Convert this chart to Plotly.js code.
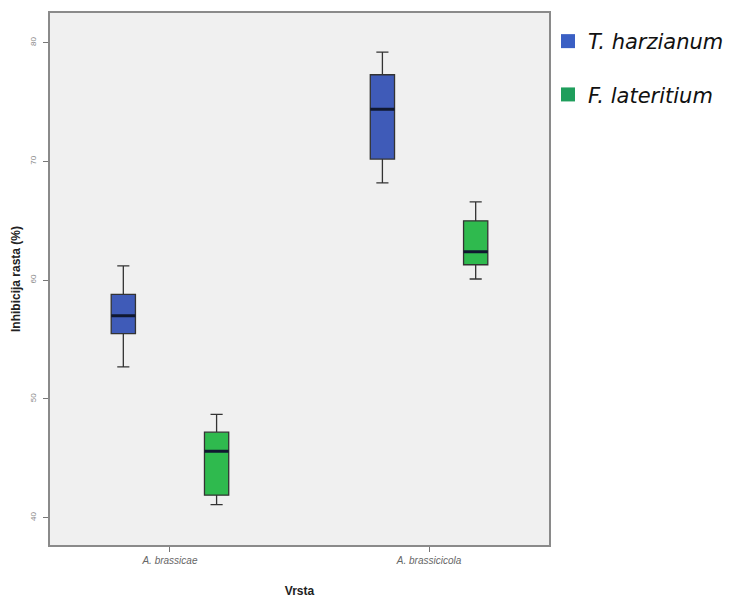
<!DOCTYPE html>
<html><head><meta charset="utf-8">
<script src="https://cdn.plot.ly/plotly-3.0.1.min.js"></script>
<style>body{margin:0;background:#fff}#chart{width:741px;height:612px}</style>
</head><body><div id="chart"></div>
<script>
var categories = ['A. brassicae', 'A. brassicicola'];
var seriesNames = ['T. harzianum', 'F. lateritium'];
var lowerWhisker = [[52.7, 68.2], [41.1, 60.1]];
var q1Values     = [[55.5, 70.2], [41.9, 61.3]];
var medianValues = [[57.0, 74.4], [45.6, 62.4]];
var q3Values     = [[58.8, 77.3], [47.2, 65.0]];
var upperWhisker = [[61.2, 79.2], [48.7, 66.6]];
var yTicks = [40, 50, 60, 70, 80];

var boxColors = ['#3f5bb8', '#2fba4e'];
var legendColors = ['#3a5fc4', '#1f9e5c'];

var traces = [];
seriesNames.forEach(function(name, i){
  traces.push({
    type: 'box', name: name, x: categories,
    q1: q1Values[i], median: medianValues[i], q3: q3Values[i],
    lowerfence: lowerWhisker[i], upperfence: upperWhisker[i],
    fillcolor: boxColors[i], line: {color: '#333', width: 1.3},
    whiskerwidth: 0.5, offsetgroup: 'g' + i, showlegend: false, hoverinfo: 'skip'
  });
});
seriesNames.forEach(function(name, i){
  traces.push({
    type: 'box', name: name + ' median', x: categories,
    q1: medianValues[i], median: medianValues[i], q3: medianValues[i],
    lowerfence: medianValues[i], upperfence: medianValues[i],
    fillcolor: 'rgba(0,0,0,0)', line: {color: '#101830', width: 3},
    whiskerwidth: 0, offsetgroup: 'g' + i, showlegend: false, hoverinfo: 'skip'
  });
});
seriesNames.forEach(function(name, i){
  traces.push({
    type: 'scatter', mode: 'markers', name: name, x: [null], y: [null],
    legendgroup: 'l' + i, showlegend: true,
    marker: {symbol: 'square', size: 14, color: legendColors[i], line: {width: 0}}
  });
});

var layout = {
  width: 741, height: 612,
  margin: {l: 50, r: 192, t: 13, b: 67},
  paper_bgcolor: '#ffffff', plot_bgcolor: '#f0f0f0',
  boxmode: 'group', boxgap: 0.28, boxgroupgap: 0.74,
  showlegend: true,
  legend: {x: 0.998, xanchor: 'left', y: 0.985, yanchor: 'top',
    font: {family: 'DejaVu Sans, sans-serif', size: 21, color: '#111', style: 'italic'},
    tracegroupgap: 23, traceorder: 'grouped', itemwidth: 30, bgcolor: 'rgba(0,0,0,0)'},
  xaxis: {
    type: 'category', range: [-0.463, 1.463],
    showgrid: false, zeroline: false, showline: true, mirror: true,
    linecolor: '#8a8a8a', linewidth: 2,
    ticks: 'outside', ticklen: 5, tickcolor: '#777', tickwidth: 1,
    tickfont: {family: 'Liberation Sans, Arial, sans-serif', size: 10, color: '#666', style: 'italic'},
    title: {text: 'Vrsta', font: {family: 'Liberation Sans, Arial, sans-serif', size: 12, color: '#222', weight: 'bold'}, standoff: 22}
  },
  yaxis: {
    range: [37.7, 82.5], tickvals: yTicks, ticktext: yTicks.map(String),
    showgrid: false, zeroline: false, showline: true, mirror: true,
    linecolor: '#8a8a8a', linewidth: 2,
    ticks: 'outside', ticklen: 5, tickcolor: '#777', tickwidth: 1, tickangle: -90,
    ticklabelstandoff: 4,
    tickfont: {family: 'Liberation Sans, Arial, sans-serif', size: 8, color: '#888'},
    title: {text: 'Inhibicija rasta (%)', font: {family: 'Liberation Sans, Arial, sans-serif', size: 12, color: '#222', weight: 'bold'}, standoff: 6}
  }
};
Plotly.newPlot('chart', traces, layout, {displayModeBar: false, staticPlot: true});
</script></body></html>
